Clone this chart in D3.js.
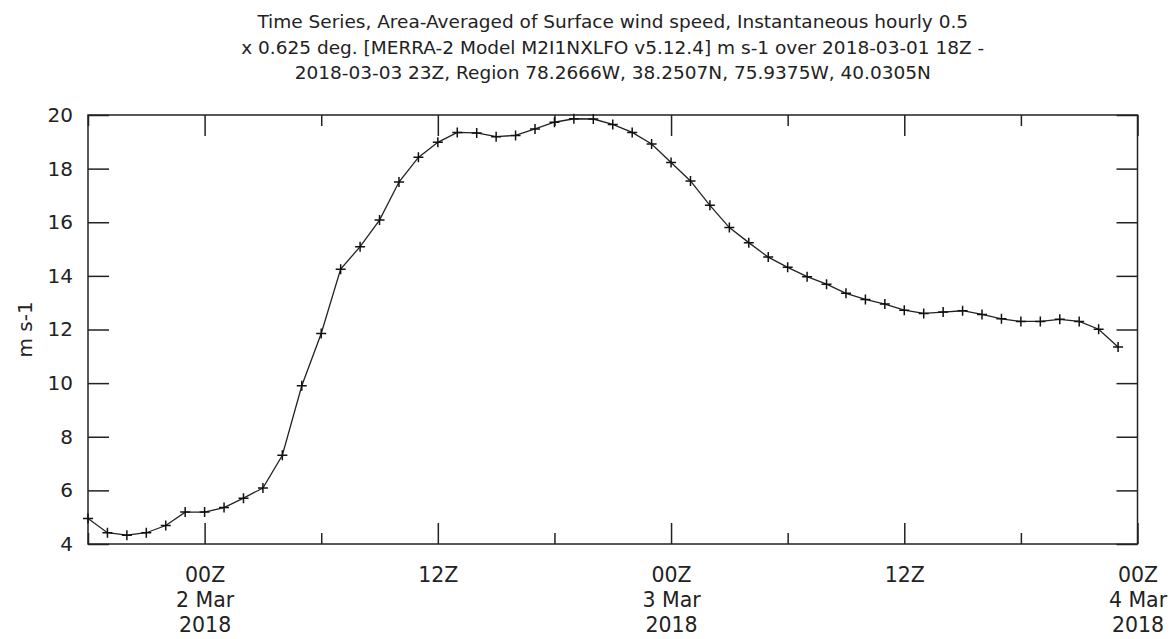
<!DOCTYPE html>
<html>
<head>
<meta charset="utf-8">
<script src="https://cdn.jsdelivr.net/npm/d3@7"></script>
<style>
  html, body { margin: 0; padding: 0; background: #fff; }
  svg { display: block; }
  text { font-family: "DejaVu Sans", sans-serif; fill: #222; }
</style>
</head>
<body>
<svg id="chart" width="1174" height="639"></svg>
<script>
// ---- data ----
const titleLines = [
  "Time Series, Area-Averaged of Surface wind speed, Instantaneous hourly 0.5",
  "x 0.625 deg. [MERRA-2 Model M2I1NXLFO v5.12.4] m s-1 over 2018-03-01 18Z -",
  "2018-03-03 23Z, Region 78.2666W, 38.2507N, 75.9375W, 40.0305N"
];
const yLabel = "m s-1";
const startTime = "2018-03-01T18:00:00Z";
const endTime = "2018-03-04T00:00:00Z";
// hourly values, 2018-03-01 18Z .. 2018-03-03 23Z
const windSpeed = [
  4.95, 4.42, 4.33, 4.42, 4.69, 5.19,
  5.19, 5.36, 5.71, 6.09, 7.31, 9.90, 11.85, 14.25, 15.09, 16.08, 17.50, 18.42,
  18.98, 19.35, 19.33, 19.19, 19.24, 19.48, 19.73, 19.86, 19.85, 19.65, 19.35, 18.92,
  18.23, 17.54, 16.63, 15.80, 15.24, 14.70, 14.32, 13.97, 13.69, 13.35, 13.12, 12.95,
  12.72, 12.60, 12.65, 12.70, 12.56, 12.40, 12.30, 12.30, 12.38, 12.30, 12.01, 11.35
];
const yTicks = [4, 6, 8, 10, 12, 14, 16, 18, 20];
const xTickTimes = [
  "2018-03-01T18:00:00Z", "2018-03-02T00:00:00Z", "2018-03-02T06:00:00Z",
  "2018-03-02T12:00:00Z", "2018-03-02T18:00:00Z", "2018-03-03T00:00:00Z",
  "2018-03-03T06:00:00Z", "2018-03-03T12:00:00Z", "2018-03-03T18:00:00Z",
  "2018-03-04T00:00:00Z"
];
const xLabelTimes = [
  "2018-03-02T00:00:00Z", "2018-03-02T12:00:00Z", "2018-03-03T00:00:00Z",
  "2018-03-03T12:00:00Z", "2018-03-04T00:00:00Z"
];

// ---- layout ----
const svg = d3.select("#chart");
const L = 88, R = 1137.5, T = 115, B = 544;
const t0 = new Date(startTime);
const times = windSpeed.map((v, i) => d3.utcHour.offset(t0, i));
const data = windSpeed.map((v, i) => ({ t: times[i], v }));

const x = d3.scaleUtc().domain([new Date(startTime), new Date(endTime)]).range([L, R]);
const y = d3.scaleLinear().domain([4, 20]).range([B, T]);

// title
const title = svg.append("g");
titleLines.forEach((s, i) => {
  title.append("text")
    .attr("x", (L + R) / 2)
    .attr("y", 28 + i * 25.5)
    .attr("text-anchor", "middle")
    .style("font-size", "18.5px")
    .text(s);
});

const isMajor = d => d.getUTCHours() % 12 === 0;
const tickLen = d => isMajor(d) ? 21 : 11;

// frame
svg.append("rect")
  .attr("x", L).attr("y", T).attr("width", R - L).attr("height", B - T)
  .attr("fill", "none").attr("stroke", "#222").attr("stroke-width", 1.5);

// x axes (ticks inward, bottom and top)
const xTickVals = xTickTimes.map(s => new Date(s));
const xb = svg.append("g").attr("transform", `translate(0,${B})`)
  .call(d3.axisBottom(x).tickValues(xTickVals).tickSizeInner(-21).tickSizeOuter(0).tickFormat(""));
xb.selectAll(".tick line").attr("y2", d => -tickLen(d));
const xt = svg.append("g").attr("transform", `translate(0,${T})`)
  .call(d3.axisTop(x).tickValues(xTickVals).tickSizeInner(-21).tickSizeOuter(0).tickFormat(""));
xt.selectAll(".tick line").attr("y2", d => tickLen(d));
[xb, xt].forEach(g => {
  g.select(".domain").remove();
  g.selectAll(".tick line").attr("stroke", "#222").attr("stroke-width", 1.5);
});

// x labels
const fmtHour = d3.utcFormat("%HZ");
const fmtDay = d => d.getUTCDate() + " " + d3.utcFormat("%b")(d);
const xl = svg.append("g").attr("transform", `translate(0,${B})`)
  .call(d3.axisBottom(x).tickValues(xLabelTimes.map(s => new Date(s))).tickSize(0).tickPadding(0).tickFormat(""));
xl.select(".domain").remove();
xl.selectAll(".tick text").remove();
xl.selectAll(".tick").each(function(d) {
  const t = d3.select(this).append("text")
    .attr("text-anchor", "middle")
    .style("font-size", "20.5px")
    .attr("fill", "#222");
  const lines = d.getUTCHours() === 0 ? [fmtHour(d), fmtDay(d), String(d.getUTCFullYear())] : [fmtHour(d)];
  lines.forEach((s, i) => t.append("tspan").attr("x", 0).attr("y", 38 + i * 25).text(s));
});

// y axes (ticks inward, left and right)
const yl = svg.append("g").attr("transform", `translate(${L},0)`)
  .call(d3.axisLeft(y).tickValues(yTicks).tickSizeInner(-21).tickSizeOuter(0).tickPadding(36).tickFormat(d3.format("d")));
const yr = svg.append("g").attr("transform", `translate(${R},0)`)
  .call(d3.axisRight(y).tickValues(yTicks).tickSizeInner(-21).tickSizeOuter(0).tickFormat(""));
[yl, yr].forEach(g => {
  g.select(".domain").remove();
  g.selectAll(".tick line").attr("stroke", "#222").attr("stroke-width", 1.5);
});
yl.selectAll(".tick text")
  .attr("x", -15)
  .attr("text-anchor", "end")
  .style("font-size", "20px")
  .style("font-family", "'DejaVu Sans', sans-serif")
  .attr("fill", "#222");

// y label
svg.append("text")
  .attr("transform", `translate(32,${(T + B) / 2}) rotate(-90)`)
  .attr("text-anchor", "middle")
  .style("font-size", "20px")
  .text(yLabel);

// line
const line = d3.line().x(d => x(d.t)).y(d => y(d.v));
svg.append("path").datum(data)
  .attr("d", line)
  .attr("fill", "none")
  .attr("stroke", "#222")
  .attr("stroke-width", 1.3);

// plus markers
const m = 5;
svg.append("g").selectAll("path.mk").data(data).join("path")
  .attr("class", "mk")
  .attr("d", d => {
    const px = x(d.t), py = y(d.v);
    return `M${px - m},${py}H${px + m}M${px},${py - m}V${py + m}`;
  })
  .attr("stroke", "#111")
  .attr("stroke-width", 1.5)
  .attr("fill", "none");
</script>
</body>
</html>
